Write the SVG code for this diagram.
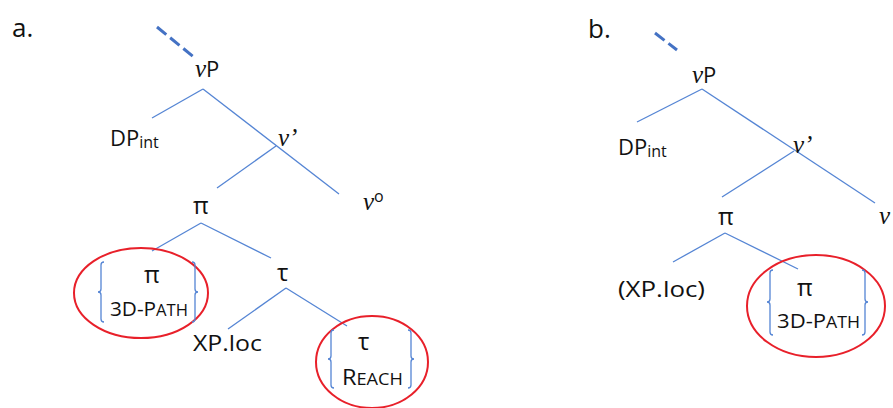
<svg xmlns="http://www.w3.org/2000/svg" width="893" height="408" viewBox="0 0 893 408">
<style>
  .t { font-family: "Open Sans", "Liberation Sans", sans-serif; font-size: 22px; fill: #111111; }
  .it { font-family: "Liberation Serif", "DejaVu Serif", serif; font-style: italic; font-size: 25px; }
  .g { font-size: 24px; }
  .sub { font-size: 16px; }
  .sc { font-size: 16px; }
  .cap { font-size: 20px; }
  .edge { stroke: #5585d4; stroke-width: 1.3; fill: none; }
  .dash { stroke: #4472c4; stroke-width: 3; fill: none; stroke-dasharray: 12 5; }
  .ring { stroke: #e8202a; stroke-width: 2; fill: none; }
  .brace { stroke: #5585d4; stroke-width: 1.3; fill: none; }
</style>
<rect width="893" height="408" fill="#ffffff"/>

<g id="connectors">
  <line class="dash" x1="157" y1="27" x2="195" y2="58"/>
  <line class="dash" x1="655" y1="33" x2="677" y2="50"/>
  <line class="edge" x1="203" y1="89" x2="152" y2="118"/>
  <line class="edge" x1="203" y1="89" x2="339" y2="194"/>
  <line class="edge" x1="276" y1="146" x2="217" y2="188"/>
  <line class="edge" x1="201" y1="223" x2="152" y2="251"/>
  <line class="edge" x1="201" y1="223" x2="271" y2="258"/>
  <line class="edge" x1="286" y1="288" x2="228" y2="329"/>
  <line class="edge" x1="286" y1="288" x2="347" y2="326"/>
  <line class="edge" x1="702" y1="89" x2="637" y2="122"/>
  <line class="edge" x1="702" y1="89" x2="875" y2="203"/>
  <line class="edge" x1="794" y1="151" x2="722" y2="197"/>
  <line class="edge" x1="725" y1="233" x2="673" y2="262"/>
  <line class="edge" x1="725" y1="233" x2="798" y2="269"/>
</g>

<text class="t" x="12" y="37" style="font-size:26px">a.</text>
<text class="t" x="588" y="38" style="font-size:26px">b.</text>

<!-- tree a -->
<g id="a-vP"><text class="t" x="195" y="77"><tspan class="it">v</tspan>P</text></g>
<g id="a-DPint"><text class="t" x="110" y="146">DP<tspan class="sub" dy="2">int</tspan></text></g>
<g id="a-vbar"><text class="t it" x="278" y="146">v’</text></g>
<g id="a-pi"><text class="t g" x="193" y="214">π</text></g>
<g id="a-v0"><text class="t" x="363" y="210"><tspan class="it">v</tspan><tspan class="sub" dy="-8">o</tspan></text></g>
<g id="a-pi-3dpath">
  <ellipse class="ring" cx="141" cy="293" rx="67" ry="45"/>
  <path class="brace" d="M104,262 Q101,262 101,265 L101,289 Q101,292 98,292 Q101,292 101,295 L101,319 Q101,322 104,322"/>
  <path class="brace" d="M192,262 Q195,262 195,265 L195,289 Q195,292 198,292 Q195,292 195,295 L195,319 Q195,322 192,322"/>
  <text class="t g" x="144" y="283">π</text>
  <text class="t" x="110" y="316" textLength="78" lengthAdjust="spacingAndGlyphs"><tspan class="cap">3D-P</tspan><tspan class="sc">ATH</tspan></text>
</g>
<g id="a-tau"><text class="t g" x="277" y="281">τ</text></g>
<g id="a-xploc"><text class="t" x="193" y="351" textLength="69" lengthAdjust="spacingAndGlyphs">XP.loc</text></g>
<g id="a-tau-reach">
  <ellipse class="ring" cx="372" cy="362" rx="56" ry="46"/>
  <path class="brace" d="M334,330 Q331,330 331,333 L331,356 Q331,359 328,359 Q331,359 331,362 L331,385 Q331,388 334,388"/>
  <path class="brace" d="M408,330 Q411,330 411,333 L411,356 Q411,359 414,359 Q411,359 411,362 L411,385 Q411,388 408,388"/>
  <text class="t g" x="358" y="350">τ</text>
  <text class="t" x="342" y="385" textLength="61" lengthAdjust="spacingAndGlyphs">R<tspan style="font-size:17px">EACH</tspan></text>
</g>

<!-- tree b -->
<g id="b-vP"><text class="t" x="692" y="83"><tspan class="it">v</tspan>P</text></g>
<g id="b-DPint"><text class="t" x="618" y="155">DP<tspan class="sub" dy="2">int</tspan></text></g>
<g id="b-vbar"><text class="t it" x="793" y="153">v’</text></g>
<g id="b-v0"><text class="t it" x="879" y="224">v’</text></g>
<g id="b-pi"><text class="t g" x="718" y="225">π</text></g>
<g id="b-xploc"><text class="t" x="618" y="297" textLength="87" lengthAdjust="spacingAndGlyphs">(XP.loc)</text></g>
<g id="b-pi-3dpath">
  <ellipse class="ring" cx="816" cy="306" rx="69" ry="51"/>
  <path class="brace" d="M773,270 Q770,270 770,273 L770,299 Q770,302 767,302 Q770,302 770,305 L770,332 Q770,335 773,335"/>
  <path class="brace" d="M862,270 Q865,270 865,273 L865,299 Q865,302 868,302 Q865,302 865,305 L865,332 Q865,335 862,335"/>
  <text class="t g" x="797" y="296">π</text>
  <text class="t" x="777" y="328" textLength="83" lengthAdjust="spacingAndGlyphs"><tspan class="cap">3D-P</tspan><tspan class="sc">ATH</tspan></text>
</g>
</svg>
